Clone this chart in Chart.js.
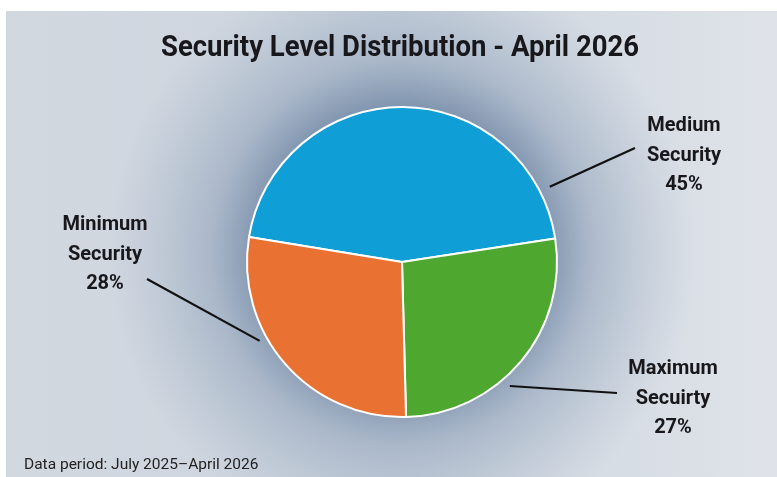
<!DOCTYPE html>
<html>
<head>
<meta charset="utf-8">
<title>Security Level Distribution</title>
<script src="https://cdn.jsdelivr.net/npm/chart.js@4.4.1/dist/chart.umd.min.js"></script>
<style>
  html, body { margin: 0; padding: 0; background: #fff; }
  canvas { display: block; }
</style>
</head>
<body>
<canvas id="pie" width="777" height="477"></canvas>
<script>
// slice data, in drawing order (clockwise)
const categories = ['Medium Security', 'Maximum Security', 'Minimum Security'];
const shares = [45, 27, 28];
const labelLines = [['Medium', 'Security'], ['Maximum', 'Secuirty'], ['Minimum', 'Security']];
const sliceColors = ['#0f9ed5', '#4ea72e', '#e97132'];

const chartTitle = 'Security Level Distribution - April 2026';
const footNote = 'Data period: July 2025\u2013April 2026';

// callout placement: where the leader leaves the slice (degrees clockwise from top,
// radius factor), where it ends, and where the text block is centred
const callouts = [
    { angle: 63, dist: 1.07, end: [635, 148], text: [684, 126] },
    { angle: 139, dist: 1.06, end: [617, 393], text: [673, 369] },
    { angle: 241, dist: 1.05, end: [147, 279], text: [105, 225] }
];

const backdrop = {
    id: 'backdrop',
    beforeDraw(chart) {
        const ctx = chart.ctx;
        const arc = chart.getDatasetMeta(0).data[0];
        ctx.save();
        ctx.fillStyle = '#ffffff';
        ctx.fillRect(0, 0, chart.width, chart.height);
        // panel
        const lin = ctx.createLinearGradient(6, 0, chart.width, 0);
        lin.addColorStop(0, '#d2d8e0');
        lin.addColorStop(0.5, '#ccd4de');
        lin.addColorStop(1, '#dfe3e9');
        ctx.fillStyle = lin;
        ctx.fillRect(6, 11, chart.width - 6, chart.height - 11);
        // soft shadow around the pie
        const g = ctx.createRadialGradient(arc.x, arc.y - 10, arc.outerRadius * 0.9, arc.x, arc.y - 10, arc.outerRadius * 1.9);
        g.addColorStop(0, 'rgba(108,132,162,0.85)');
        g.addColorStop(0.35, 'rgba(128,149,176,0.45)');
        g.addColorStop(1, 'rgba(150,168,190,0)');
        ctx.fillStyle = g;
        ctx.fillRect(6, 11, chart.width - 6, chart.height - 11);
        ctx.restore();
    }
};

const annotations = {
    id: 'annotations',
    afterDraw(chart) {
        const ctx = chart.ctx;
        const meta = chart.getDatasetMeta(0);
        ctx.save();

        // title, squeezed to a narrow face
        ctx.fillStyle = '#18181c';
        ctx.font = 'bold 29px "Liberation Sans Narrow", Roboto, sans-serif';
        ctx.textBaseline = 'alphabetic';
        ctx.textAlign = 'center';
        const tw = ctx.measureText(chartTitle).width;
        const sx = Math.min(1, 478 / tw);
        ctx.save();
        ctx.translate(400, 56);
        ctx.scale(sx, 1);
        ctx.fillText(chartTitle, 0, 0);
        ctx.restore();

        // callouts
        ctx.textBaseline = 'middle';
        meta.data.forEach((arc, i) => {
            const c = callouts[i];
            const a = (c.angle - 90) * Math.PI / 180;
            const r = arc.outerRadius * c.dist;
            ctx.strokeStyle = '#111';
            ctx.lineWidth = 2.2;
            ctx.beginPath();
            ctx.moveTo(arc.x + r * Math.cos(a), arc.y + r * Math.sin(a));
            ctx.lineTo(c.end[0], c.end[1]);
            ctx.stroke();

            ctx.fillStyle = '#18181c';
            ctx.font = 'bold 20px Roboto, sans-serif';
            ctx.textAlign = 'center';
            const lines = labelLines[i].concat([shares[i] + '%']);
            lines.forEach((t, k) => ctx.fillText(t, c.text[0], c.text[1] + k * 29.5));
        });

        // footnote
        ctx.font = '15.5px Roboto, sans-serif';
        ctx.textAlign = 'left';
        ctx.textBaseline = 'alphabetic';
        ctx.fillStyle = '#222';
        ctx.fillText(footNote, 24, 469);
        ctx.restore();
    }
};

new Chart(document.getElementById('pie'), {
    type: 'pie',
    data: {
        labels: categories,
        datasets: [{
            data: shares,
            backgroundColor: sliceColors,
            borderColor: '#ffffff',
            borderWidth: 2
        }]
    },
    options: {
        responsive: false,
        animation: false,
        devicePixelRatio: 1,
        rotation: -80.7,
        layout: { padding: { top: 106, bottom: 59, left: 27, right: 0 } },
        plugins: {
            legend: { display: false },
            title: { display: false },
            tooltip: { enabled: false }
        }
    },
    plugins: [backdrop, annotations]
});
</script>
</body>
</html>
